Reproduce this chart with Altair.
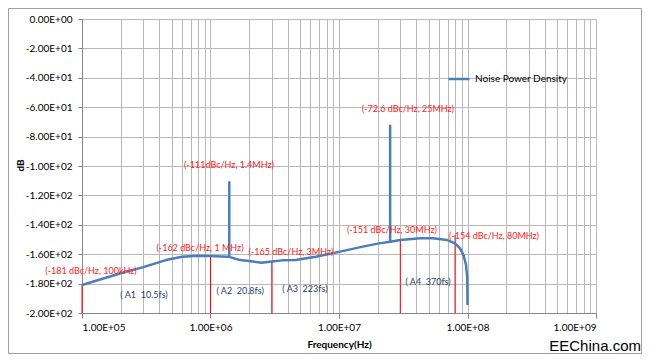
import altair as alt
import pandas as pd

# ---- data ----
curve_freq = [1e5, 2e5, 3e5, 4.5e5, 6e5, 8e5, 1e6, 1.2e6, 1.4e6, 1.4e6, 1.4e6, 1.7e6, 2e6, 2.5e6,
              3e6, 3.6e6, 4.6e6, 6.6e6, 1e7, 1.5e7, 2e7, 2.5e7, 2.5e7, 2.5e7, 3e7, 4.27e7, 5.4e7,
              6.9e7, 8e7, 8.75e7, 9.3e7, 9.74e7, 9.96e7, 1e8]
curve_db = [-181, -173, -168.8, -164, -161.8, -161, -161.2, -161.5, -161.8, -111, -161.8, -164, -164.6,
            -165.8, -165, -164.2, -164, -161.8, -158.4, -155, -152.8, -151.6, -72.6, -151.6, -150.3,
            -149.2, -149.2, -150.3, -152.6, -156, -160.5, -167.3, -176.4, -194.6]

marker_freq = [1e5, 1e6, 3e6, 3e7, 8e7]
marker_db = [-181, -161.2, -165, -149.5, -147]

red_text = ["(-181 dBc/Hz, 100kHz)", "(-162 dBc/Hz, 1 MHz)", "(-111dBc/Hz, 1.4MHz)",
            "(-165 dBc/Hz, 3MHz)", "(-151 dBc/Hz, 30MHz)", "(-154 dBc/Hz, 80MHz)",
            "(-72.6 dBc/Hz, 25MHz)"]
red_freq = [1.175e5, 8.28e5, 1.393e6, 4.23e6, 2.58e7, 1.607e8, 3.44e7]
red_db = [-171.3, -155.8, -99.5, -158.6, -143.6, -147.9, -61.0]

blue_text = ["( A1\u00a0 10.5fs)", "( A2\u00a0 20.8fs)", "( A3\u00a0 223fs)", "( A4\u00a0 370fs)"]
blue_freq = [3.04e5, 1.70e6, 5.43e6, 4.93e7]
blue_db = [-187.7, -185.0, -183.6, -178.6]

x_ticks = [m * 10 ** k for k in range(5, 9) for m in range(1, 10)] + [1e9]
y_ticks = list(range(-200, 1, 20))

series_name = "Noise Power Density"

# ---- tables ----
curve = pd.DataFrame({"f": curve_freq, "db": curve_db, "idx": range(len(curve_freq)),
                      "series": series_name})
markers = pd.DataFrame({"f": marker_freq, "db": marker_db, "bottom": [-200] * len(marker_freq)})
reds = pd.DataFrame({"f": red_freq, "db": red_db, "t": red_text})
blues = pd.DataFrame({"f": blue_freq, "db": blue_db, "t": blue_text})
one = pd.DataFrame({"a": [0]})

FONT = "Lato"
GRID = "#b8b8b8"
AXIS = "#868686"
decade_test = "abs(log(datum.value)/LN10 - round(log(datum.value)/LN10)) < 0.01"

x_enc = alt.X(
    "f:Q",
    scale=alt.Scale(type="log", domain=[1e5, 1e9], nice=False),
    axis=alt.Axis(
        values=x_ticks,
        labelExpr=decade_test + " ? '1.00E+0' + round(log(datum.value)/LN10) : ''",
        labelOverlap=False,
        labelBound=False,
        labelFont=FONT, labelFontSize=10, labelColor="#000000", labelPadding=4,
        tickSize=5,
        tickColor={"condition": {"test": decade_test, "value": AXIS}, "value": "transparent"},
        domainColor=AXIS,
        grid=True, gridColor=GRID, gridWidth=1,
        title="Frequency(Hz)", titleFont=FONT, titleFontSize=10, titleFontWeight="bold",
        titleColor="#000000", titleX=257, titleY=31, titleBaseline="middle", titleAlign="center",
    ),
)
y_enc = alt.Y(
    "db:Q",
    scale=alt.Scale(domain=[-200, 0], nice=False, zero=False),
    axis=alt.Axis(
        values=y_ticks,
        labelExpr="datum.value == 0 ? '0.00E+00' : (abs(datum.value) < 100 ? '-' + format(abs(datum.value)/10, '.2f') + 'E+01' : '-' + format(abs(datum.value)/100, '.2f') + 'E+02')",
        labelFont=FONT, labelFontSize=10, labelColor="#000000", labelPadding=6,
        tickSize=4, tickColor=AXIS, domainColor=AXIS,
        grid=True, gridColor=GRID, gridWidth=1,
        title="dB", titleFont=FONT, titleFontSize=10, titleFontWeight="bold", titleColor="#000000",
        titleX=-62, titleY=146, titleBaseline="middle", titleAlign="center", titleAngle=-90,
    ),
)

frame = alt.Chart(one).mark_rect(fill=None, stroke="#a0a0a0", strokeWidth=1).encode(
    x=alt.value(-73.5), x2=alt.value(559.5), y=alt.value(-10.5), y2=alt.value(334.5)
)

rules = alt.Chart(markers).mark_rule(color="#ff0000", strokeWidth=1).encode(
    x=x_enc, y=y_enc, y2="bottom:Q"
)

line = alt.Chart(curve).mark_line(strokeWidth=2.5, strokeJoin="round").encode(
    x=x_enc, y=y_enc, order="idx:Q",
    color=alt.Color(
        "series:N",
        scale=alt.Scale(range=["#4a7ebb"]),
        legend=alt.Legend(
            orient="none", legendX=365, legendY=48, title=None, padding=0,
            symbolType="stroke", symbolSize=441, symbolStrokeWidth=2.5,
            labelFont=FONT, labelFontSize=10, labelColor="#000000", labelOffset=4,
        ),
    ),
)

red_labels = alt.Chart(reds).mark_text(font=FONT, fontSize=9, color="#ff2020",
                                       align="center", baseline="middle").encode(
    x=x_enc, y=y_enc, text="t:N"
)
blue_labels = alt.Chart(blues).mark_text(font=FONT, fontSize=9, color="#1f3d6e",
                                         align="center", baseline="middle").encode(
    x=x_enc, y=y_enc, text="t:N"
)

watermark = alt.Chart(one).mark_text(
    text="EEChina.com", font="Liberation Sans Narrow, Liberation Sans", fontSize=15,
    color="#000000", align="right", baseline="middle"
).encode(x=alt.value(559), y=alt.value(327))

chart = alt.layer(frame, rules, line, red_labels, blue_labels, watermark).properties(
    width=514, height=294,
    autosize=alt.AutoSizeParams(type="none"),
    padding={"left": 74, "top": 11, "right": 46, "bottom": 41},
    background="#ffffff",
).configure_view(stroke=None)

chart.save("out.html", embed_options={"renderer": "svg", "actions": False})
